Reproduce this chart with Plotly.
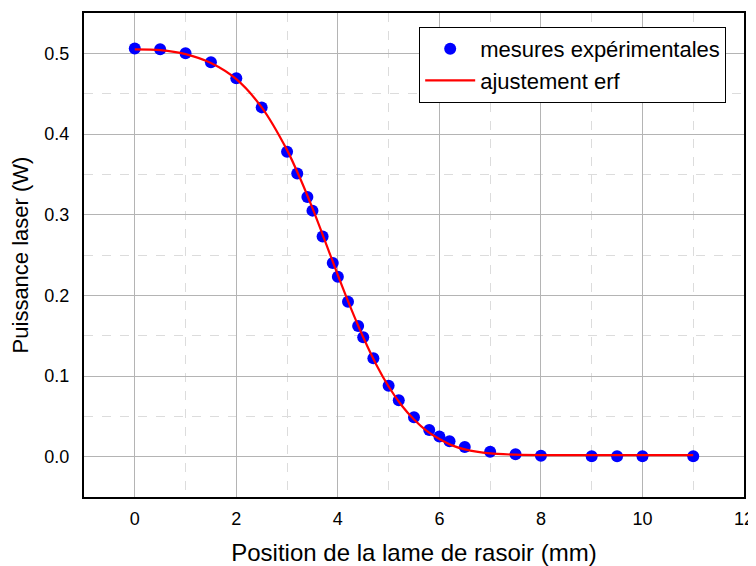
import plotly.graph_objects as go

# Experimental measurements
pos_mm = [0, 0.5, 1, 1.5, 2, 2.5, 3, 3.2, 3.4, 3.5, 3.7, 3.9, 4.0, 4.2, 4.4, 4.5, 4.7,
          5.0, 5.2, 5.5, 5.8, 6.0, 6.2, 6.5, 7.0, 7.5, 8.0, 9.0, 9.5, 10, 11]
power_w = [0.506, 0.505, 0.500, 0.489, 0.469, 0.433, 0.378, 0.351, 0.322, 0.305, 0.273,
           0.240, 0.223, 0.192, 0.162, 0.148, 0.122, 0.088, 0.070, 0.049, 0.033, 0.025,
           0.019, 0.012, 0.006, 0.003, 0.001, 0.0005, 0.0005, 0.0005, 0.0005]

# Fit curve
fit_x = [0, 0.5, 1, 1.5, 2, 2.5, 3, 3.25, 3.5, 3.75, 4, 4.25, 4.5, 4.75, 5, 5.25, 5.5,
         5.75, 6, 6.25, 6.5, 7, 7.5, 8, 9, 10, 11]
fit_y = [0.505, 0.504, 0.499, 0.488, 0.468, 0.433, 0.380, 0.346, 0.308, 0.267, 0.225,
         0.185, 0.148, 0.115, 0.087, 0.064, 0.046, 0.032, 0.022, 0.014, 0.009, 0.004,
         0.0025, 0.002, 0.002, 0.002, 0.002]

x_ticks = [0, 2, 4, 6, 8, 10, 12]
y_ticks = [0.0, 0.1, 0.2, 0.3, 0.4, 0.5]

fig = go.Figure()
fig.add_trace(go.Scatter(x=pos_mm, y=power_w, mode="markers", name="mesures expérimentales",
                         marker=dict(color="#0000ff", size=12, line=dict(width=0))))
fig.add_trace(go.Scatter(x=fit_x, y=fit_y, mode="lines", name="ajustement erf",
                         line=dict(color="#ff0000", width=2.2, shape="spline", smoothing=0.8)))

font = "Liberation Sans, Arial, sans-serif"
fig.update_layout(
    width=748, height=558,
    margin=dict(l=76, r=12, t=5, b=69),
    paper_bgcolor="white", plot_bgcolor="white",
    font=dict(family=font, color="black"),
    showlegend=True,
    legend=dict(x=0.973, y=0.971, xanchor="right", yanchor="top",
                bgcolor="white", bordercolor="black", borderwidth=1,
                font=dict(size=22, family=font), itemwidth=50,
                tracegroupgap=0),
)
fig.update_xaxes(
    range=[-1, 12], tickvals=x_ticks, ticks="", tickfont=dict(size=18), automargin=False,
    ticklabelstandoff=4,
    title=dict(text="Position de la lame de rasoir (mm)", font=dict(size=24), standoff=17),
    showgrid=True, gridcolor="#b4b4b4", gridwidth=1,
    minor=dict(dtick=1, tick0=0, showgrid=True, gridcolor="#dcdcdc", griddash="dash", gridwidth=1),
    showline=True, linecolor="black", linewidth=2, mirror=True, zeroline=False,
)
fig.update_yaxes(
    range=[-0.05, 0.55], tickvals=y_ticks, tickformat=".1f", ticks="", tickfont=dict(size=18),
    ticklabelstandoff=9, automargin=False,
    title=dict(text="Puissance laser (W)", font=dict(size=22), standoff=10),
    showgrid=True, gridcolor="#b4b4b4", gridwidth=1,
    minor=dict(dtick=0.05, tick0=0, showgrid=True, gridcolor="#dcdcdc", griddash="dash", gridwidth=1),
    showline=True, linecolor="black", linewidth=2, mirror=True, zeroline=False,
)

fig.write_html("out.html")
